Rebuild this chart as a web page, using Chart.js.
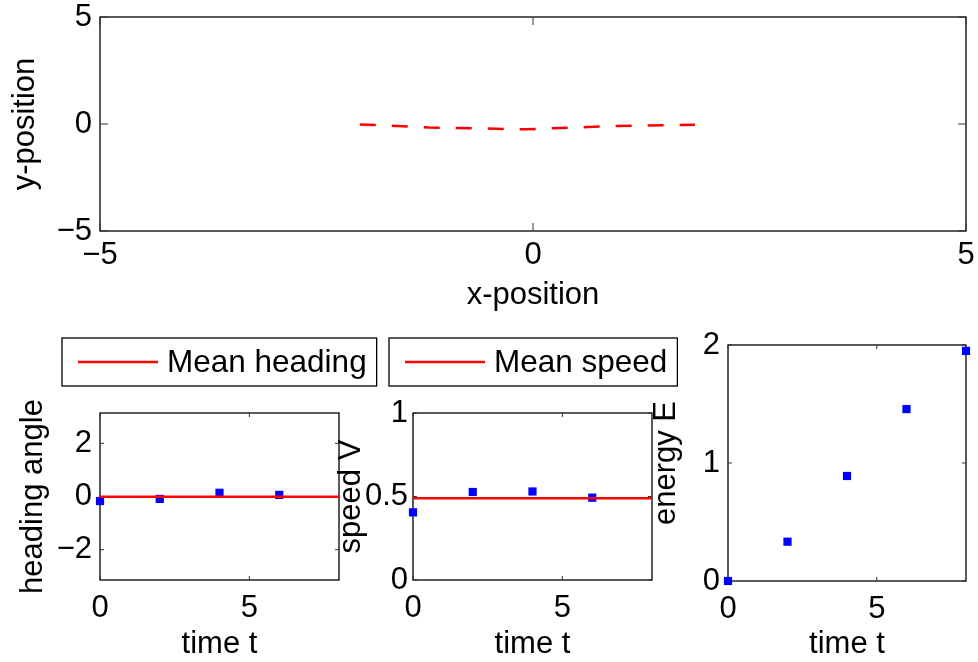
<!DOCTYPE html>
<html>
<head>
    <title>Trajectory, heading, speed and energy</title>
    <script src="https://cdn.jsdelivr.net/npm/chart.js@4.4.1/dist/chart.umd.min.js"></script>
    <style>
        body {
            margin: 0;
            width: 978px;
            height: 662px;
            overflow: hidden;
            background: #ffffff;
            position: relative;
        }
        canvas {
            position: absolute;
        }
    </style>
</head>
<body>
    <canvas id="pathChart" width="978" height="320" style="left:0px; top:0px;"></canvas>
    <canvas id="headingChart" width="380" height="332" style="left:0px; top:330px;"></canvas>
    <canvas id="speedChart" width="350" height="332" style="left:330px; top:330px;"></canvas>
    <canvas id="energyChart" width="338" height="332" style="left:640px; top:330px;"></canvas>

    <script>
        // Trajectory (top panel)
        const pathX = [-2.0, -1.2, -0.1, 0.9, 1.87];
        const pathY = [-0.02, -0.16, -0.25, -0.1, -0.04];
        const posTicks = [-5, 0, 5];

        // Time series (bottom panels)
        const sampleTimes = [0, 2, 4, 6];
        const headingValues = [-0.17, -0.09, 0.14, 0.06];
        const meanHeading = -0.01;
        const speedValues = [0.405, 0.527, 0.53, 0.493];
        const meanSpeed = 0.49;
        const energyTimes = [0, 2, 4, 6, 8];
        const energyValues = [0, 0.333, 0.89, 1.457, 1.95];
        const meanSpan = [0, 8];

        const timeTicks = [0, 5];
        const headingTicks = [-2, 0, 2];
        const speedTicks = [0, 0.5, 1];
        const energyTicks = [0, 1, 2];

        const FONT = '"Liberation Sans", Arial, Helvetica, sans-serif';
        const RED = '#ff0000';
        const BLUE = '#0000ff';

        function fmt(v) {
            return v < 0 ? '\u2212' + Math.abs(v) : String(v);
        }

        function toPoints(xs, ys) {
            return xs.map((x, i) => ({x: x, y: ys[i]}));
        }

        // MATLAB style frame, inner tick marks and a framed legend
        const matlabBox = {
            id: 'matlabBox',
            beforeDatasetsDraw(chart, args, opts) {
                const {ctx, chartArea: a} = chart;
                const len = opts.tickLen || 5;
                ctx.save();
                ctx.strokeStyle = '#000';
                ctx.lineWidth = 1.3;
                ctx.strokeRect(a.left, a.top, a.right - a.left, a.bottom - a.top);
                ctx.lineWidth = 1;
                ctx.strokeStyle = '#333';
                ctx.beginPath();
                const xs = chart.scales.x, ys = chart.scales.y;
                xs.ticks.forEach(t => {
                    const px = xs.getPixelForValue(t.value);
                    ctx.moveTo(px, a.bottom); ctx.lineTo(px, a.bottom - len);
                    ctx.moveTo(px, a.top); ctx.lineTo(px, a.top + len);
                });
                ys.ticks.forEach(t => {
                    const py = ys.getPixelForValue(t.value);
                    ctx.moveTo(a.left, py); ctx.lineTo(a.left + len, py);
                    ctx.moveTo(a.right, py); ctx.lineTo(a.right - len, py);
                });
                ctx.stroke();
                ctx.restore();
            },
            afterDraw(chart, args, opts) {
                const lg = opts.legend;
                if (!lg) return;
                const ds = chart.data.datasets.find(d => d.label);
                if (!ds) return;
                const {ctx} = chart;
                ctx.save();
                ctx.font = '31.5px ' + FONT;
                const textX = lg.left + 105;
                const right = textX + ctx.measureText(ds.label).width + 10;
                const mid = (lg.top + lg.bottom) / 2;
                ctx.fillStyle = '#fff';
                ctx.fillRect(lg.left, lg.top, right - lg.left, lg.bottom - lg.top);
                ctx.strokeStyle = '#000';
                ctx.lineWidth = 1.3;
                ctx.strokeRect(lg.left, lg.top, right - lg.left, lg.bottom - lg.top);
                ctx.strokeStyle = ds.borderColor;
                ctx.lineWidth = 2.5;
                ctx.beginPath();
                ctx.moveTo(lg.left + 16, mid);
                ctx.lineTo(lg.left + 96, mid);
                ctx.stroke();
                ctx.fillStyle = '#000';
                ctx.textBaseline = 'middle';
                ctx.fillText(ds.label, textX, mid + 1);
                ctx.restore();
            }
        };

        function axis(cfg) {
            const vertical = cfg.axis === 'y';
            return {
                type: 'linear',
                position: vertical ? 'left' : 'bottom',
                min: cfg.min,
                max: cfg.max,
                afterBuildTicks: s => { s.ticks = cfg.ticks.map(v => ({value: v})); },
                afterFit: s => {
                    if (vertical) {
                        s.width = cfg.size;
                        s.paddingTop = 0;
                        s.paddingBottom = 0;
                    } else {
                        s.height = cfg.size;
                        s.paddingLeft = 0;
                        s.paddingRight = 0;
                    }
                },
                grid: {display: false, drawTicks: false},
                border: {display: false},
                ticks: {
                    padding: cfg.tickPad,
                    color: '#000',
                    font: {family: FONT, size: 31, lineHeight: 1},
                    callback: v => fmt(v)
                },
                title: {
                    display: true,
                    text: cfg.title,
                    color: '#000',
                    font: {family: FONT, size: 31, lineHeight: 1},
                    padding: vertical ? {top: cfg.titlePad, bottom: 0} : {top: 0, bottom: cfg.titlePad}
                }
            };
        }

        function makeChart(id, datasets, padding, xAxis, yAxis, boxOpts) {
            return new Chart(document.getElementById(id), {
                type: 'scatter',
                data: {datasets: datasets},
                options: {
                    responsive: false,
                    animation: false,
                    devicePixelRatio: 1,
                    layout: {padding: padding},
                    scales: {x: axis(xAxis), y: axis(yAxis)},
                    plugins: {
                        legend: {display: false},
                        tooltip: {enabled: false},
                        matlabBox: boxOpts
                    }
                },
                plugins: [matlabBox]
            });
        }

        function markers(xs, ys) {
            return {
                data: toPoints(xs, ys),
                pointStyle: 'rect',
                pointRadius: 5.8,
                pointBackgroundColor: BLUE,
                pointBorderColor: BLUE,
                pointBorderWidth: 0,
                showLine: false,
                clip: false
            };
        }

        function meanLine(label, value) {
            return {
                label: label,
                data: toPoints(meanSpan, meanSpan.map(() => value)),
                showLine: true,
                borderColor: RED,
                borderWidth: 2.5,
                pointRadius: 0,
                clip: false
            };
        }

        // Top: trajectory
        makeChart('pathChart', [{
            data: toPoints(pathX, pathY),
            showLine: true,
            borderColor: RED,
            borderWidth: 2.5,
            borderDash: [16, 16],
            pointRadius: 0
        }], {left: 0, top: 17, right: 12, bottom: 0},
            {axis: 'x', min: -5, max: 5, ticks: posTicks, size: 89, tickPad: 8.5, title: 'x-position', titlePad: 9},
            {axis: 'y', min: -5, max: 5, ticks: posTicks, size: 100, tickPad: 8, title: 'y-position', titlePad: 9.5},
            {tickLen: 8});

        // Bottom left: heading
        makeChart('headingChart', [
            meanLine('Mean heading', meanHeading),
            markers(sampleTimes, headingValues)
        ], {left: 0, top: 83, right: 41, bottom: 0},
            {axis: 'x', min: 0, max: 8, ticks: timeTicks, size: 82, tickPad: 12.5, title: 'time t', titlePad: 2},
            {axis: 'y', min: -Math.PI, max: Math.PI, ticks: headingTicks, size: 100, tickPad: 8, title: 'heading angle', titlePad: 17.5},
            {tickLen: 4, legend: {left: 62, top: 8, bottom: 56}});

        // Bottom middle: speed
        makeChart('speedChart', [
            meanLine('Mean speed', meanSpeed),
            markers(sampleTimes, speedValues)
        ], {left: 0, top: 83, right: 28, bottom: 0},
            {axis: 'x', min: 0, max: 8, ticks: timeTicks, size: 82, tickPad: 12.5, title: 'time t', titlePad: 2},
            {axis: 'y', min: 0, max: 1, ticks: speedTicks, size: 83, tickPad: 5, title: 'speed V', titlePad: 5.5},
            {tickLen: 4, legend: {left: 59, top: 8, bottom: 56}});

        // Bottom right: energy
        makeChart('energyChart', [
            markers(energyTimes, energyValues)
        ], {left: 0, top: 15, right: 12, bottom: 0},
            {axis: 'x', min: 0, max: 8, ticks: timeTicks, size: 81, tickPad: 12.5, title: 'time t', titlePad: 2},
            {axis: 'y', min: 0, max: 2, ticks: energyTicks, size: 88, tickPad: 8, title: 'energy E', titlePad: 10.5},
            {tickLen: 4});
    </script>
</body>
</html>
